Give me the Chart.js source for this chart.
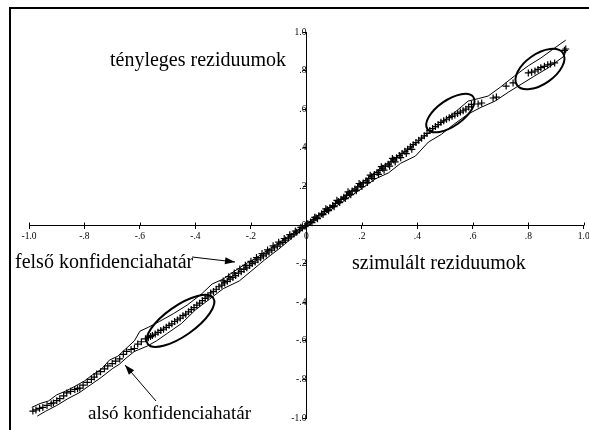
<!DOCTYPE html>
<html>
<head>
<meta charset="utf-8">
<script src="https://cdn.jsdelivr.net/npm/chart.js@4.4.0/dist/chart.umd.min.js"></script>
<style>
  html, body { margin: 0; padding: 0; background: #fff; }
  #wrap { position: relative; width: 589px; height: 430px; overflow: hidden; }
  #frame { position: absolute; left: 9px; top: 7px; right: 0; bottom: 0;
           border-top: 2px solid #000; border-left: 2px solid #000; }
  canvas { position: absolute; left: 0; top: 0; }
</style>
</head>
<body>
<div id="wrap">
  <canvas id="qq" width="589" height="430"></canvas>
  <div id="frame"></div>
</div>
<script>
const simX = [
  -0.986, -0.975, -0.962, -0.950, -0.935, -0.920, -0.912, -0.900, -0.889, -0.875,
  -0.864, -0.850, -0.835, -0.825, -0.817, -0.805, -0.790, -0.775, -0.765, -0.756,
  -0.742, -0.728, -0.716, -0.700, -0.688, -0.673, -0.660, -0.648, -0.632, -0.620,
  -0.608, -0.595,
  -0.580, -0.570, -0.562, -0.555, -0.545, -0.535, -0.525, -0.515, -0.505, -0.495,
  -0.485, -0.475, -0.465, -0.455, -0.445, -0.435, -0.425, -0.415, -0.405, -0.395,
  -0.385, -0.375, -0.365, -0.355,
  -0.345, -0.335, -0.325, -0.315, -0.305, -0.295, -0.285, -0.275, -0.265, -0.255,
  -0.245, -0.235, -0.225, -0.215, -0.205, -0.195, -0.185, -0.175, -0.165, -0.155,
  -0.145, -0.135, -0.125, -0.115, -0.105, -0.095, -0.085, -0.075, -0.065, -0.055,
  -0.045, -0.035, -0.025, -0.015, -0.005,
  -0.300, -0.280, -0.260, -0.240, -0.220, -0.200, -0.180, -0.160, -0.140, -0.120,
  -0.100, -0.080, -0.060, -0.040, -0.020,
  0.005, 0.015, 0.025, 0.035, 0.045, 0.055, 0.065, 0.075, 0.085, 0.095,
  0.105, 0.115, 0.125, 0.135, 0.145, 0.155, 0.165, 0.175, 0.185, 0.195,
  0.205, 0.215, 0.225, 0.235, 0.245, 0.255, 0.265, 0.275, 0.285, 0.295,
  0.305, 0.315, 0.325, 0.335, 0.345, 0.355, 0.365, 0.375, 0.385, 0.395,
  0.405, 0.415, 0.425, 0.435,
  0.020, 0.040, 0.060, 0.080, 0.100, 0.120, 0.140, 0.160, 0.180, 0.200,
  0.220, 0.240, 0.260, 0.280, 0.300, 0.320, 0.340, 0.360, 0.380,
  0.030, 0.070, 0.110, 0.150, 0.190, 0.230, 0.270, 0.310,
  0.445, 0.455, 0.465, 0.475, 0.485, 0.495, 0.505, 0.515, 0.525, 0.535,
  0.545, 0.555, 0.565, 0.575, 0.585, 0.595,
  0.619, 0.632, 0.673, 0.685, 0.720, 0.745,
  0.800, 0.812, 0.824, 0.835, 0.845, 0.858, 0.870, 0.880, 0.895, 0.930, 0.935
];
const actY = [
  -0.964, -0.958, -0.950, -0.945, -0.935, -0.926, -0.922, -0.910, -0.900, -0.885,
  -0.870, -0.862, -0.852, -0.848, -0.845, -0.830, -0.815, -0.800, -0.788, -0.772,
  -0.760, -0.745, -0.730, -0.718, -0.705, -0.694, -0.670, -0.655, -0.645, -0.640,
  -0.617, -0.605,
  -0.590, -0.584, -0.578, -0.572, -0.565, -0.556, -0.546, -0.540, -0.530, -0.520,
  -0.512, -0.500, -0.492, -0.482, -0.470, -0.462, -0.450, -0.438, -0.428, -0.415,
  -0.405, -0.392, -0.380, -0.372,
  -0.352, -0.344, -0.333, -0.320, -0.312, -0.300, -0.292, -0.280, -0.272, -0.262,
  -0.250, -0.242, -0.230, -0.222, -0.210, -0.200, -0.192, -0.180, -0.170, -0.160,
  -0.150, -0.140, -0.130, -0.118, -0.110, -0.098, -0.090, -0.078, -0.068, -0.058,
  -0.047, -0.037, -0.026, -0.016, -0.006,
  -0.290, -0.268, -0.249, -0.228, -0.209, -0.188, -0.169, -0.148, -0.129, -0.108,
  -0.089, -0.070, -0.050, -0.031, -0.012,
  0.006, 0.016, 0.027, 0.037, 0.048, 0.058, 0.069, 0.080, 0.090, 0.101,
  0.112, 0.122, 0.133, 0.144, 0.154, 0.165, 0.176, 0.186, 0.197, 0.208,
  0.218, 0.229, 0.240, 0.250, 0.262, 0.272, 0.283, 0.294, 0.305, 0.315,
  0.327, 0.337, 0.349, 0.360, 0.371, 0.382, 0.393, 0.405, 0.416, 0.427,
  0.439, 0.450, 0.462, 0.475,
  0.012, 0.033, 0.054, 0.074, 0.095, 0.116, 0.137, 0.157, 0.178, 0.199,
  0.220, 0.241, 0.262, 0.284, 0.305, 0.327, 0.349, 0.370, 0.392,
  0.040, 0.084, 0.128, 0.172, 0.215, 0.258, 0.302, 0.345,
  0.490, 0.500, 0.510, 0.520, 0.532, 0.540, 0.548, 0.556, 0.563, 0.570,
  0.578, 0.585, 0.592, 0.600, 0.612, 0.625,
  0.627, 0.632, 0.658, 0.663, 0.720, 0.736,
  0.788, 0.792, 0.798, 0.806, 0.815, 0.822, 0.830, 0.834, 0.840, 0.905, 0.912
];

// upper confidence bound (felső)
const upperX = [
  -0.99, -0.96, -0.93, -0.90, -0.87, -0.84, -0.80, -0.77, -0.74, -0.71,
  -0.68, -0.65, -0.62, -0.60, -0.57, -0.53, -0.48, -0.43, -0.38, -0.34,
  -0.30, -0.26, -0.22, -0.18, -0.14, -0.10, -0.06, -0.03, 0.00, 0.05,
  0.10, 0.15, 0.20, 0.25, 0.28, 0.30, 0.32, 0.36, 0.40, 0.44,
  0.47, 0.50, 0.54, 0.583, 0.62, 0.655, 0.70, 0.75, 0.80, 0.845,
  0.89, 0.935
];
const upperY = [
  -0.945, -0.925, -0.912, -0.880, -0.862, -0.840, -0.808, -0.775, -0.748, -0.700,
  -0.680, -0.640, -0.600, -0.550, -0.530, -0.500, -0.460, -0.415, -0.360, -0.306,
  -0.280, -0.240, -0.202, -0.170, -0.130, -0.092, -0.055, -0.025, 0.005, 0.060,
  0.110, 0.165, 0.220, 0.275, 0.310, 0.325, 0.347, 0.385, 0.430, 0.477,
  0.510, 0.545, 0.590, 0.642, 0.655, 0.668, 0.715, 0.772, 0.825, 0.865,
  0.912, 0.958
];

// lower confidence bound (alsó)
const lowerX = [
  -0.97, -0.94, -0.90, -0.86, -0.82, -0.78, -0.74, -0.70, -0.673, -0.65,
  -0.62, -0.573, -0.54, -0.50, -0.45, -0.40, -0.35, -0.30, -0.242, -0.20,
  -0.15, -0.10, -0.05, 0.00, 0.05, 0.10, 0.15, 0.20, 0.25, 0.296,
  0.34, 0.393, 0.44, 0.487, 0.53, 0.583, 0.63, 0.68, 0.73, 0.775,
  0.82, 0.87, 0.93, 0.935
];
const lowerY = [
  -0.990, -0.965, -0.935, -0.900, -0.870, -0.830, -0.790, -0.745, -0.720, -0.690,
  -0.655, -0.627, -0.600, -0.560, -0.510, -0.440, -0.385, -0.330, -0.290, -0.240,
  -0.180, -0.125, -0.065, -0.008, 0.040, 0.090, 0.140, 0.190, 0.240, 0.270,
  0.320, 0.357, 0.430, 0.470, 0.520, 0.575, 0.610, 0.642, 0.690, 0.730,
  0.770, 0.813, 0.876, 0.905
];

const tickValues = [-1, -0.8, -0.6, -0.4, -0.2, 0, 0.2, 0.4, 0.6, 0.8, 1];

// circled groups: centre in data units
const circles = [
  { x: 0.842, y: 0.808, rx: 28, ry: 15, rot: -0.61 },
  { x: 0.519, y: 0.580, rx: 28, ry: 13, rot: -0.61 },
  { x: -0.454, y: -0.497, rx: 40, ry: 15, rot: -0.61 }
];

const pts = (xs, ys) => xs.map((x, i) => ({ x: x, y: ys[i] }));

function tickText(v) {
  let s = Number(v).toFixed(1);
  if (s === '0.0' || s === '-0.0') return '0';
  return s.replace(/^(-?)0\./, '$1.');
}

const serif = "'Liberation Serif', 'Times New Roman', serif";

const annotations = {
  id: 'annotations',
  afterDatasetsDraw(chart) {
    const ctx = chart.ctx;
    const xs = chart.scales.x, ys = chart.scales.y;
    ctx.save();
    ctx.strokeStyle = '#000';
    ctx.fillStyle = '#000';

    // upper half of the x-axis tick marks (ticks cross the axis)
    ctx.lineWidth = 1;
    const axisY = Math.round(ys.getPixelForValue(0)) + 0.5;
    xs.ticks.forEach(t => {
      const px = Math.round(xs.getPixelForValue(t.value)) + 0.5;
      ctx.beginPath();
      ctx.moveTo(px, axisY - 3);
      ctx.lineTo(px, axisY);
      ctx.stroke();
    });

    // ellipses
    ctx.lineWidth = 2;
    circles.forEach(c => {
      ctx.beginPath();
      ctx.ellipse(xs.getPixelForValue(c.x), ys.getPixelForValue(c.y), c.rx, c.ry, c.rot, 0, Math.PI * 2);
      ctx.stroke();
    });

    // arrows
    ctx.lineWidth = 1;
    const arrow = (x1, y1, x2, y2) => {
      ctx.beginPath();
      ctx.moveTo(x1, y1);
      ctx.lineTo(x2, y2);
      ctx.stroke();
      const a = Math.atan2(y2 - y1, x2 - x1);
      ctx.beginPath();
      ctx.moveTo(x2, y2);
      ctx.lineTo(x2 - 10 * Math.cos(a) + 3.5 * Math.sin(a), y2 - 10 * Math.sin(a) - 3.5 * Math.cos(a));
      ctx.lineTo(x2 - 10 * Math.cos(a) - 3.5 * Math.sin(a), y2 - 10 * Math.sin(a) + 3.5 * Math.cos(a));
      ctx.closePath();
      ctx.fill();
    };
    arrow(192, 257, 235, 262);
    arrow(156, 401, 125, 365);

    // texts
    ctx.font = '20px ' + serif;
    ctx.textBaseline = 'middle';
    ctx.textAlign = 'left';
    ctx.fillText('tényleges reziduumok', 110, 61);
    ctx.fillText('szimulált reziduumok', 352, 264);
    ctx.fillText('felső konfidenciahatár', 15, 263);
    ctx.font = '19px ' + serif;
    ctx.fillText('alsó konfidenciahatár', 88, 414);
    ctx.restore();
  }
};

new Chart(document.getElementById('qq'), {
  type: 'scatter',
  data: {
    datasets: [
      {
        label: 'felső konfidenciahatár',
        data: pts(upperX, upperY),
        showLine: true,
        borderColor: '#000',
        borderWidth: 1,
        pointRadius: 0,
        tension: 0
      },
      {
        label: 'alsó konfidenciahatár',
        data: pts(lowerX, lowerY),
        showLine: true,
        borderColor: '#000',
        borderWidth: 1,
        pointRadius: 0,
        tension: 0
      },
      {
        label: 'reziduumok',
        data: pts(simX, actY),
        pointStyle: 'cross',
        pointRadius: 3.5,
        borderColor: '#000',
        borderWidth: 1.2
      }
    ]
  },
  plugins: [annotations],
  options: {
    responsive: false,
    animation: false,
    layout: { padding: { left: 29, right: 3, top: 32, bottom: 12 } },
    plugins: {
      legend: { display: false },
      tooltip: { enabled: false }
    },
    scales: {
      x: {
        type: 'linear',
        position: { y: 0 },
        min: -1, max: 1,
        afterBuildTicks: axis => { axis.ticks = tickValues.map(v => ({ value: v })); },
        afterFit: axis => { axis.paddingLeft = 0; axis.paddingRight = 0; },
        grid: { drawOnChartArea: false, drawTicks: true, tickLength: 3, color: '#000' },
        border: { color: '#000', width: 1 },
        ticks: {
          color: '#000',
          padding: 3,
          maxRotation: 0,
          autoSkip: false,
          font: { family: serif, size: 9.5 },
          callback: v => tickText(v)
        }
      },
      y: {
        type: 'linear',
        position: { x: 0 },
        min: -1, max: 1,
        afterBuildTicks: axis => { axis.ticks = tickValues.map(v => ({ value: v })); },
        afterFit: axis => { axis.paddingTop = 0; axis.paddingBottom = 0; },
        grid: { drawOnChartArea: false, drawTicks: true, tickLength: 3, color: '#000' },
        border: { color: '#000', width: 1 },
        ticks: {
          color: '#000',
          padding: 1,
          autoSkip: false,
          font: { family: serif, size: 9.5 },
          callback: v => tickText(v)
        }
      }
    }
  }
});
</script>
</body>
</html>
